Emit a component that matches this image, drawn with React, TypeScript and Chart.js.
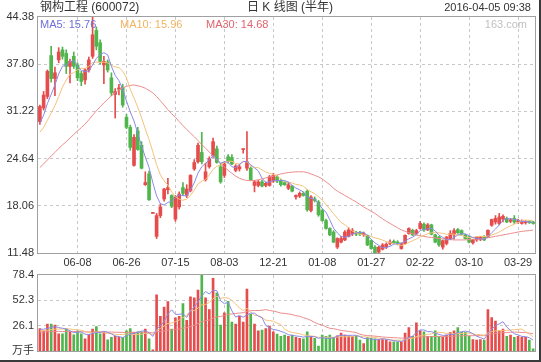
import { useEffect, useRef } from 'react';
import { Chart, registerables } from 'chart.js';

Chart.register(...registerables);

// ---- data ----
const tickPositions = [10, 23, 36, 49, 62, 75, 88, 101, 114, 127];
const tickLabels = ['06-08', '06-26', '07-15', '08-03', '12-21', '01-08', '01-27', '02-22', '03-10', '03-29'];
const priceTicks = [11.48, 18.06, 24.64, 31.22, 37.8, 44.38];
const volumeTicks = [0, 26.13, 52.27, 78.4];

const opens = [29.8,31.7,33.3,39.0,35.8,38.4,39.8,39.3,37.5,38.9, 37.7,36.5,35.6,37.0,38.9,42.5,40.8,37.7,38.1,35.9, 33.6,34.3,34.6,30.4,29.0,23.7,28.5,26.5,21.0,22.5, 17.0,13.8,16.7,19.0,20.3,19.5,16.2,17.9,20.6,19.5, 20.2,23.2,24.2,25.5,21.7,23.5,25.0,26.0,23.5,22.3, 24.9,24.8,23.0,23.2,25.9,23.3,23.3,20.9,20.9,21.4, 20.9,20.9,21.5,22.1,21.6,21.3,20.5,20.8,19.3,19.4, 19.8,20.1,17.4,19.0,18.6,17.4,16.0,14.9,14.4,12.3, 13.0,13.3,13.8,14.2,14.3,14.3,14.0,13.95,13.2,12.3, 11.6,12.0,12.3,12.8,13.1,13.0,12.1,12.8,14.2,14.65, 14.2,14.9,15.5,14.7,15.4,14.0,13.7,12.3,12.8,13.5, 14.0,14.75,14.6,14.0,13.7,12.9,13.3,13.4,13.8,13.7, 15.35,15.8,15.6,16.2,16.3,15.9,16.3,15.8,15.6,15.7, 15.8,15.8];
const highs = [32.1,34.0,37.0,40.3,37.4,40.1,40.2,39.8,38.5,39.5, 38.0,36.8,37.2,38.8,44.38,43.0,41.2,38.9,38.4,36.6, 34.4,35.0,35.0,30.8,29.3,28.0,29.0,27.0,22.8,22.9, 17.1,17.0,18.3,20.5,21.9,19.6,19.5,20.0,21.3,21.0, 22.4,24.5,26.8,28.3,24.0,24.9,27.5,26.4,24.0,24.2, 25.2,25.2,23.8,23.8,26.0,28.4,23.5,21.6,21.6,21.6, 21.4,22.3,22.6,22.3,21.8,21.5,21.3,20.9,19.6,20.0, 20.0,20.3,19.5,19.3,18.8,17.6,16.2,15.0,14.6,13.6, 13.8,14.6,15.0,14.9,14.5,14.5,14.4,14.0,13.3,12.5, 12.4,12.8,12.9,13.3,13.3,13.2,12.9,14.0,15.0,14.8, 14.8,15.9,15.7,15.6,15.5,14.1,13.8,13.3,13.8,14.6, 14.9,14.9,14.7,14.1,13.8,13.4,13.7,13.8,13.9,14.7, 16.2,16.7,17.0,16.8,16.5,16.3,16.7,16.2,16.1,16.0, 16.0,15.9];
const lows = [29.4,31.4,33.0,35.3,33.4,38.0,38.5,36.5,35.2,37.2, 35.5,34.8,35.0,36.7,38.6,39.8,37.8,35.1,36.7,33.4, 30.3,33.5,31.8,28.8,25.8,23.6,25.8,23.2,20.9,18.8, 17.0,13.5,16.4,18.7,19.7,17.8,15.9,17.6,19.5,19.2, 20.0,23.0,24.0,23.9,21.5,23.3,24.8,24.0,21.2,22.0, 24.0,23.8,22.8,22.9,25.4,23.0,21.6,20.0,20.7,20.7, 20.7,20.8,21.3,21.3,20.8,20.9,20.3,20.0,19.0,19.2, 19.4,17.3,17.2,18.6,16.6,15.9,14.8,13.9,12.9,12.1, 12.9,13.2,13.7,13.9,13.9,13.9,13.8,12.5,12.0,11.48, 11.5,11.9,12.1,12.6,12.8,12.6,12.0,12.7,14.1,13.9, 14.0,14.8,14.5,14.6,14.0,12.9,12.4,12.0,12.6,13.4, 13.4,14.2,14.0,13.4,12.9,12.7,13.1,13.2,13.2,13.6, 15.2,15.5,15.4,15.8,15.7,15.7,15.6,15.6,15.5,15.5, 15.6,15.5];
const closes = [31.9,33.5,36.8,35.8,36.6,39.5,38.9,37.5,38.2,37.5, 35.9,35.4,37.0,38.4,41.9,40.3,38.2,38.2,37.0,33.8, 34.0,34.5,32.1,29.0,26.2,27.6,25.9,23.3,21.3,18.9, 17.0,16.7,17.9,20.4,20.6,18.0,19.3,19.7,19.8,20.4, 22.3,24.1,26.5,24.2,22.8,24.6,27.0,24.1,21.4,23.9, 24.2,23.9,23.6,23.5,25.95,24.2,21.7,21.4,21.4,20.8, 21.2,22.1,22.3,21.5,21.0,21.0,21.0,20.1,19.5,19.8, 19.5,17.5,19.3,18.8,16.8,16.0,14.9,14.0,13.0,13.5, 13.5,14.4,14.7,14.6,14.1,14.1,14.2,12.6,12.1,11.5, 12.3,12.6,12.7,13.0,12.9,12.8,12.8,13.95,14.9,14.0, 14.6,15.6,14.7,15.4,14.1,13.0,12.6,13.2,13.7,14.2, 14.6,14.3,14.1,13.5,13.0,13.3,13.7,13.7,13.3,14.65, 16.15,16.3,16.5,16.6,15.8,16.1,15.8,16.0,15.7,15.8, 15.7,15.6];
const ma5 = [29.6,30.7,32.3,33.6,34.92,36.44,37.52,37.66,38.14,38.32, 37.6,36.9,36.8,36.84,37.72,38.6,39.16,39.4,39.12,37.5, 36.24,35.5,34.28,32.68,31.16,29.88,28.16,26.4,24.86,23.4, 21.28,19.44,18.36,18.18,18.52,18.72,19.24,19.6,19.48,19.44, 20.3,21.26,22.62,23.5,23.98,24.44,25.02,24.54,23.98,24.2, 24.12,23.5,23.4,23.82,24.23,24.23,23.79,23.35,22.93,21.9, 21.3,21.38,21.56,21.58,21.62,21.58,21.36,20.92,20.52,20.28, 19.98,19.28,19.12,18.98,18.38,17.68,17.16,16.1,14.94,14.28, 13.78,13.68,13.82,14.14,14.26,14.38,14.34,13.92,13.42,12.9, 12.54,12.22,12.24,12.42,12.7,12.8,12.84,13.09,13.47,13.69, 14.05,14.61,14.76,14.86,14.88,14.56,13.96,13.66,13.32,13.34, 13.66,14.0,14.18,14.14,13.9,13.64,13.52,13.44,13.4,13.73, 14.3,14.82,15.38,16.04,16.27,16.26,16.16,16.06,15.88,15.88, 15.8,15.76];
const ma10 = [28.3,29.0,30.0,31.0,32.0,33.3,34.6,35.6,36.4,36.62, 37.02,37.21,37.23,37.49,38.02,38.1,38.03,38.1,37.98,37.61, 37.42,37.33,36.84,35.9,34.33,33.06,31.83,30.34,28.77,27.28, 25.58,23.8,22.38,21.52,20.96,20.0,19.34,18.98,18.83,18.98, 19.51,20.25,21.11,21.49,21.71,22.37,23.14,23.58,23.74,24.09, 24.28,24.26,23.97,23.9,24.22,24.18,23.65,23.38,23.38,23.07, 22.77,22.59,22.46,22.26,21.76,21.44,21.37,21.24,21.05,20.95, 20.78,20.32,20.02,19.75,19.33,18.83,18.22,17.61,16.96,16.33, 15.73,15.42,14.96,14.54,14.27,14.08,14.01,13.87,13.78,13.58, 13.46,13.28,13.08,12.92,12.8,12.67,12.53,12.67,12.95,13.2, 13.43,13.73,13.93,14.17,14.29,14.31,14.29,14.21,14.09,14.11, 14.11,13.98,13.92,13.73,13.62,13.65,13.76,13.81,13.77,13.82, 13.97,14.17,14.41,14.72,15.0,15.28,15.49,15.72,15.96,16.08, 16.03,15.96];
const ma30 = [23.4,23.9,24.45,25.0,25.5,26.05,26.55,27.0,27.5,28.0, 28.5,28.95,29.45,30.05,30.7,31.3,31.85,32.4,32.9,33.4, 33.85,34.2,34.5,34.7,34.85,34.9,34.8,34.65,34.45,34.15, 33.8,33.3,32.7,32.1,31.45,30.9,30.4,29.8,29.25,28.7, 28.2,27.7,27.15,26.6,26.1,25.55,25.0,24.5,24.0,23.5, 23.0,22.6,22.2,21.9,21.7,21.6,21.55,21.6,21.7,21.8, 21.95,22.1,22.2,22.35,22.5,22.6,22.7,22.75,22.8,22.8, 22.8,22.7,22.5,22.3,22.1,21.8,21.4,21.0,20.5,20.1, 19.8,19.5,19.2,18.9,18.6,18.25,17.9,17.6,17.3,17.0, 16.6,16.25,15.9,15.6,15.3,15.0,14.7,14.5,14.3,14.15, 14.0,13.9,13.8,13.7,13.65,13.6,13.5,13.45,13.4,13.35, 13.3,13.3,13.3,13.3,13.35,13.4,13.4,13.45,13.5,13.6, 13.7,13.8,13.9,14.0,14.1,14.2,14.3,14.4,14.5,14.55, 14.6,14.68];
const volumes = [23.5,21,28,28,27,18,18,23.5,19.5,17, 21,18,13,17,23,25.5,18,19.5,12,14.5, 15.5,14.5,14.5,21,23.5,19.5,20,20,22.8,12.8, 1.7,58,36,45.5,51,23,34.5,36,49,32, 56,55,63,78.4,55,43,75,60,27,39.6, 51.4,30,28,36,30,64,38,28,21,22, 23.5,26,20.1,17.8,15.5,16.8,15.5,16.8,14.5,13.5, 12.8,20.1,15.5,13.5,5.4,16.8,15.5,16.8,14.5,16, 18.8,16.8,16,15.5,15.5,11.5,8.1,14.5,13.5,12.8, 12.1,12.1,11.5,9.8,9.8,9.8,9.8,18.8,24.4,15.5, 29.4,21.1,20,15.5,15.5,21,15.5,14.5,16.8,19.5, 21,24.4,19.5,19.5,15.5,12.1,11.5,12.1,11.5,42.9, 34.6,31.2,21,22.8,15.5,16.8,14.5,15.5,14.5,14.5, 11.5,2.6];
const volMa5 = [22.5,22.8,23.6,24.5,25.5,24.4,23.8,22.9,21.2,19.2, 19.8,19.8,17.7,17.2,18.4,19.3,19.3,20.6,19.6,17.9, 15.9,15.2,14.2,16.0,17.8,18.6,19.7,20.8,21.16,19.02, 15.46,23.06,26.26,30.8,38.44,42.7,38.0,38.0,38.7,34.9, 41.5,45.6,51.0,56.88,61.48,58.88,62.88,62.28,52.0,48.92, 50.6,41.6,35.2,37.0,35.08,37.6,39.2,39.2,36.2,34.6, 26.5,24.1,22.52,21.88,20.58,19.24,17.14,16.48,15.82,15.42, 14.62,15.54,15.28,15.08,13.46,14.26,13.34,13.6,13.8,15.92, 16.32,16.58,16.42,16.62,16.52,15.06,13.32,13.02,12.62,12.08, 12.2,13.0,12.4,11.66,11.06,10.6,10.14,11.6,14.52,15.66, 19.58,21.84,22.08,20.3,20.3,18.62,17.5,16.4,16.66,17.46, 17.46,19.24,20.24,20.78,19.98,18.2,15.62,14.14,12.54,18.02, 22.52,26.46,28.24,30.5,25.02,21.46,18.12,17.02,15.36,15.16, 14.1,11.72];
const volMa10 = [21.0,21.2,21.8,22.3,22.8,22.9,23.0,23.2,23.0,22.35, 22.1,21.8,20.3,19.2,18.8,19.55,19.55,19.15,18.4,18.15, 17.6,17.25,17.4,17.8,17.85,17.25,17.45,17.5,18.58,18.41, 17.03,21.38,23.53,25.98,28.73,29.08,30.53,32.13,34.75,36.67, 42.1,41.8,44.5,47.79,48.19,50.19,54.24,56.64,54.44,55.2, 54.74,52.24,48.74,44.5,42.0,44.1,40.4,37.2,36.6,34.84, 32.05,31.65,30.86,29.04,27.59,22.87,20.62,19.5,18.85,18.0, 16.93,16.34,15.88,15.45,14.44,14.45,14.43,14.44,14.46,14.69, 15.29,14.96,15.01,15.21,16.22,15.69,14.95,14.72,14.62,14.3, 13.63,13.16,12.71,12.14,11.57,11.4,11.57,12.0,13.09,13.36, 15.09,15.99,16.84,17.41,17.98,19.1,19.67,19.24,18.48,18.88, 18.04,18.37,18.32,18.72,18.72,17.83,17.43,17.19,16.66,19.0, 20.36,21.04,21.19,21.52,21.52,21.99,22.29,22.63,22.93,20.09, 17.78,14.92];
const volMa30 = [19.8,19.9,20.1,20.3,20.5,20.5,20.4,20.5,20.5,20.4, 20.4,20.3,20.1,20.0,20.1,20.2,20.1,20.1,19.9,19.8, 19.7,19.6,19.5,19.5,19.6,19.6,19.6,19.6,19.7,19.64, 18.91,20.14,20.41,20.99,21.79,21.96,22.51,22.93,23.91,24.41, 25.58,26.81,28.48,30.52,31.59,32.17,34.07,35.42,35.92,36.76, 37.96,38.47,38.92,39.42,39.64,41.12,41.72,41.99,41.93,42.24, 42.96,41.9,41.37,40.44,39.26,39.05,38.42,37.78,36.63,36.01, 34.57,33.41,31.83,29.66,28.01,27.14,25.15,23.71,23.3,22.51, 21.42,20.98,20.58,19.9,19.42,17.67,16.67,16.22,15.97,15.66, 15.28,14.82,14.53,14.27,14.08,13.84,13.65,13.72,14.05,14.12, 14.67,14.7,14.85,14.92,15.26,15.4,15.4,15.32,15.4,15.51, 15.59,15.84,15.96,16.09,16.09,16.11,16.22,16.14,16.08,17.08, 17.83,18.47,18.78,19.22,19.41,19.64,19.8,19.69,19.36,19.32, 18.73,18.11];

// ---- styles ----
const UP = '#e64c4c';
const DOWN = '#50b54c';
const C_MA5 = '#8a8ae6';
const C_MA10 = '#f5c27c';
const C_MA30 = '#ec8c8c';
const GRID = '#c8c8c8';
const FRAME = '#a0a0a0';
const FONT = '"Liberation Sans", "Noto Sans CJK SC", sans-serif';

const framePlugin = {
  id: 'frame',
  afterDatasetsDraw(chart: any) {
    const { ctx, chartArea: a } = chart;
    ctx.save();
    ctx.strokeStyle = FRAME;
    ctx.lineWidth = 1;
    ctx.strokeRect(Math.round(a.left) - 0.5, Math.round(a.top) - 0.5, Math.round(a.right - a.left) + 1, Math.round(a.bottom - a.top) + 1);
    ctx.restore();
  },
};

function xScale(showLabels: boolean, height: number) {
  return {
    type: 'category',
    offset: true,
    grid: { offset: false, color: GRID, drawTicks: false, lineWidth: 1 },
    border: { display: false, dash: [3, 3] },
    ticks: {
      display: showLabels,
      autoSkip: false,
      maxRotation: 0,
      padding: 3,
      color: '#333',
      font: { family: FONT, size: 11 },
      callback: (v: any) => {
        const k = tickPositions.indexOf(Number(v));
        return k >= 0 ? tickLabels[k] : '';
      },
    },
    afterBuildTicks: (ax: any) => {
      ax.ticks = tickPositions.map((v) => ({ value: v }));
    },
    afterFit: (ax: any) => {
      ax.height = height;
    },
  };
}

function lineSet(data: number[], color: string) {
  return {
    type: 'line',
    data,
    borderColor: color,
    borderWidth: 1,
    pointRadius: 0,
    tension: 0,
    fill: false,
    order: 0,
  };
}

export default function App() {
  const mainRef = useRef<HTMLCanvasElement>(null);
  const volRef = useRef<HTMLCanvasElement>(null);

  useEffect(() => {
    const days = closes.map((_, i) => i);
    const colors = closes.map((c, i) => (c >= opens[i] ? UP : DOWN));

    const main = new Chart(mainRef.current as HTMLCanvasElement, {
      type: 'bar',
      data: {
        labels: days,
        datasets: [
          lineSet(ma5, C_MA5),
          lineSet(ma10, C_MA10),
          lineSet(ma30, C_MA30),
          {
            type: 'bar',
            data: lows.map((l, i) => [l, highs[i]]),
            backgroundColor: colors,
            barThickness: 1,
            grouped: false,
            order: 2,
          },
          {
            type: 'bar',
            data: opens.map((o, i) => [o, closes[i]]),
            backgroundColor: colors,
            barThickness: 3,
            minBarLength: 1,
            grouped: false,
            order: 1,
          },
        ] as any,
      },
      options: {
        responsive: false,
        animation: false,
        devicePixelRatio: 1,
        layout: { padding: { left: 0, right: 6, top: 17, bottom: 92 } },
        plugins: { legend: { display: false }, tooltip: { enabled: false } },
        scales: {
          x: xScale(true, 17) as any,
          y: {
            type: 'linear',
            min: 11.48,
            max: 44.38,
            bounds: 'data',
            grid: {
              drawTicks: false,
              color: (c: any) => (c.index === 0 || c.index === priceTicks.length - 1 ? 'rgba(0,0,0,0)' : GRID),
            },
            border: { display: false, dash: [3, 3] },
            ticks: {
              padding: 4,
              color: '#333',
              font: { family: FONT, size: 11 },
              callback: (v: any) => Number(v).toFixed(2),
            },
            afterBuildTicks: (ax: any) => {
              ax.ticks = priceTicks.map((v) => ({ value: v }));
            },
            afterFit: (ax: any) => {
              ax.width = 38;
            },
          } as any,
        },
      },
      plugins: [framePlugin],
    });

    const vol = new Chart(volRef.current as HTMLCanvasElement, {
      type: 'bar',
      data: {
        labels: days,
        datasets: [
          lineSet(volMa5, C_MA5),
          lineSet(volMa10, C_MA10),
          lineSet(volMa30, C_MA30),
          {
            type: 'bar',
            data: volumes,
            backgroundColor: colors,
            barThickness: 2,
            grouped: false,
            order: 1,
          },
        ] as any,
      },
      options: {
        responsive: false,
        animation: false,
        devicePixelRatio: 1,
        layout: { padding: { left: 0, right: 6, top: 275, bottom: 9 } },
        plugins: { legend: { display: false }, tooltip: { enabled: false } },
        scales: {
          x: xScale(false, 0) as any,
          y: {
            type: 'linear',
            min: 0,
            max: 78.4,
            bounds: 'data',
            grid: {
              drawTicks: false,
              color: (c: any) => (c.index === 0 || c.index === volumeTicks.length - 1 ? 'rgba(0,0,0,0)' : GRID),
            },
            border: { display: false, dash: [3, 3] },
            ticks: {
              padding: 4,
              color: '#333',
              font: { family: FONT, size: 11 },
              callback: (v: any) => (Number(v) === 0 ? '万手' : Number(v).toFixed(1)),
            },
            afterBuildTicks: (ax: any) => {
              ax.ticks = volumeTicks.map((v) => ({ value: v }));
            },
            afterFit: (ax: any) => {
              ax.width = 38;
            },
          } as any,
        },
      },
      plugins: [framePlugin],
    });

    return () => {
      main.destroy();
      vol.destroy();
    };
  }, []);

  const txt: any = {
    position: 'absolute',
    fontFamily: FONT,
    fontSize: 12,
    lineHeight: '15px',
    whiteSpace: 'nowrap',
    color: '#333',
  };
  const small: any = { ...txt, fontSize: 11 };

  return (
    <div style={{ position: 'fixed', left: 0, top: 0, width: 541, height: 362, background: '#fff', overflow: 'hidden' }}>
      <canvas ref={mainRef} width={541} height={362} style={{ position: 'absolute', left: 0, top: 0 }} />
      <canvas ref={volRef} width={541} height={362} style={{ position: 'absolute', left: 0, top: 0 }} />
      <div style={{ ...txt, left: 40, top: 0 }}>钢构工程 (600072)</div>
      <div style={{ ...txt, left: 290, top: 0, transform: 'translateX(-50%)' }}>日 K 线图 (半年)</div>
      <div style={{ ...small, right: 10, top: 0 }}>2016-04-05 09:38</div>
      <div style={{ ...small, left: 40, top: 17, color: '#6e6ed8' }}>MA5: 15.76</div>
      <div style={{ ...small, left: 120, top: 17, color: '#f0b462' }}>MA10: 15.96</div>
      <div style={{ ...small, left: 206, top: 17, color: '#e0646e' }}>MA30: 14.68</div>
      <div style={{ ...small, right: 14, top: 17, color: '#c0c0c0' }}>163.com</div>
      <div style={{ position: 'absolute', left: 539, top: 0, width: 2, height: 362, background: '#3a3a3a' }} />
      <div style={{ position: 'absolute', left: 0, top: 360, width: 541, height: 2, background: '#3a3a3a' }} />
    </div>
  );
}
